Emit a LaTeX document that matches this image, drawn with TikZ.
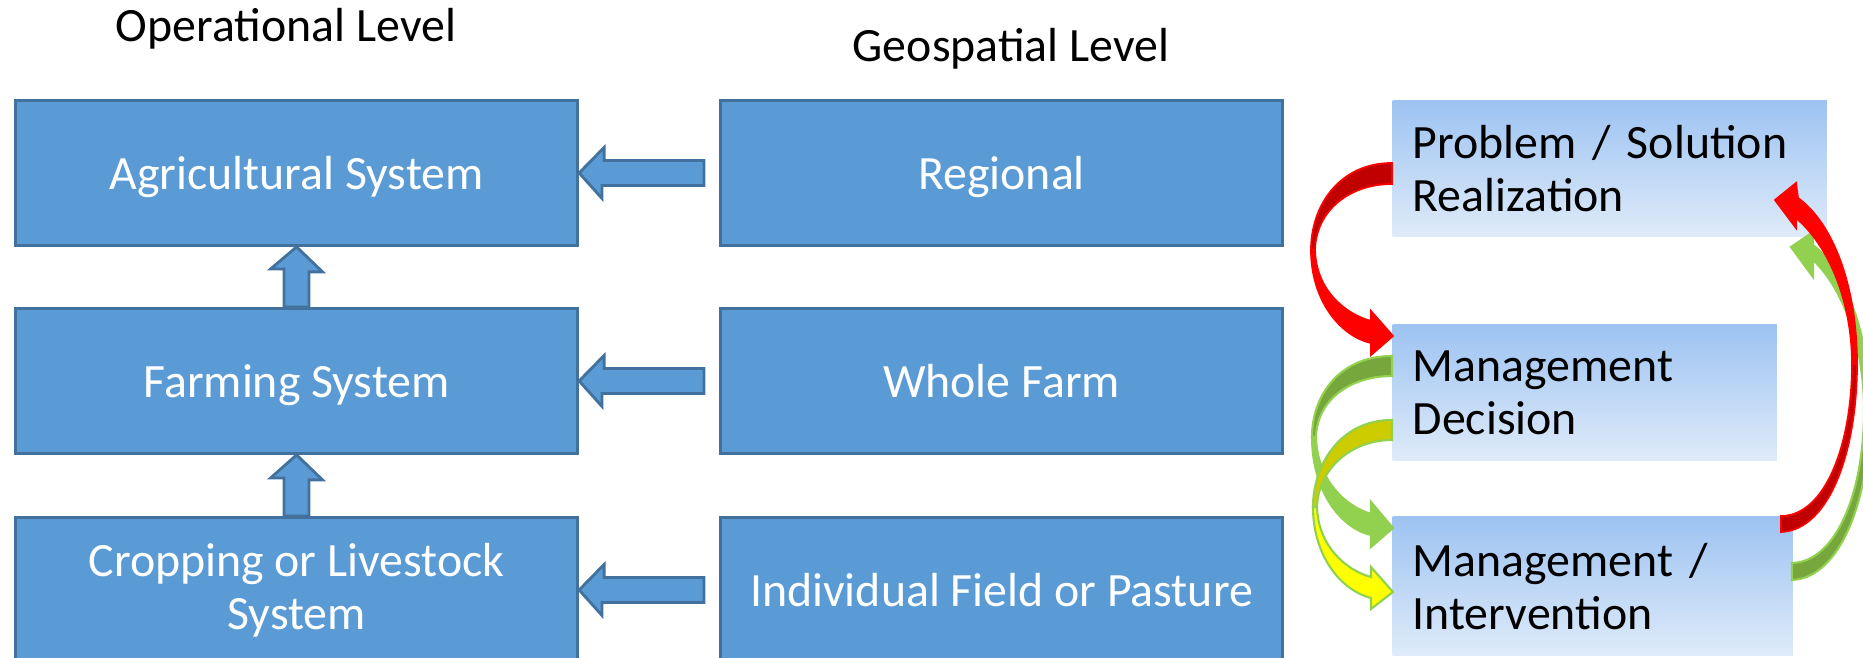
\documentclass[tikz,border=0pt]{standalone}
\usepackage{fontspec}
\setmainfont{Carlito}
\usetikzlibrary{calc}
\definecolor{boxfill}{HTML}{5B9BD5}
\definecolor{boxedge}{HTML}{41719C}
\definecolor{flowtop}{RGB}{157,195,242}
\definecolor{flowbot}{RGB}{223,235,249}
\definecolor{redbright}{HTML}{FF0000}
\definecolor{reddark}{HTML}{C00000}
\definecolor{grnbright}{HTML}{92D050}
\definecolor{grndark}{HTML}{76A63C}
\definecolor{ylwbright}{HTML}{FFFF00}
\definecolor{ylwdark}{HTML}{CCCC00}

\begin{document}
\begin{tikzpicture}[x=0.01cm,y=-0.01cm,font=\fontsize{13.6}{15.1}\selectfont,
    levelbox/.style={draw=boxedge,fill=boxfill,line width=0.8pt,text=white,align=center,
      minimum width=5.62cm,minimum height=1.45cm,anchor=north west,inner sep=0pt},
    oneline/.style={text height=0.36cm,text depth=0.03cm},
    flowbox/.style={top color=flowtop,bottom color=flowbot,anchor=north west,align=left,
      inner xsep=0.2cm,minimum height=1.36cm},
    blk/.style={draw=boxedge,fill=boxfill,line width=0.8pt},
    reddk/.style={draw=redbright,fill=reddark,line width=0.5pt},
    redbr/.style={draw=redbright,fill=redbright,line width=0.5pt},
    grndk/.style={draw=grnbright,fill=grndark,line width=0.6pt},
    grnbr/.style={draw=grnbright,fill=grnbright,line width=0.6pt},
    ylwdk/.style={draw=grnbright,fill=ylwdark,line width=0.6pt},
    ylwbr/.style={draw=grnbright,fill=ylwbright,line width=0.6pt}]
    \useasboundingbox (0,0) rectangle (1863,658);
    % column headings
    \node[anchor=base] (oplevel) at (286,42) {Operational Level};
    \node[anchor=base] (geolevel) at (1011,62) {Geospatial Level};
    % operational level
    \node[levelbox,oneline] (agsys) at (14,99) {Agricultural System};
    \node[levelbox,oneline] (farmsys) at (14,307) {Farming System};
    \node[levelbox] (cropsys) at (14,516) {Cropping or Livestock\\System};
    % geospatial level
    \node[levelbox,oneline] (regional) at (719,99) {Regional};
    \node[levelbox,oneline] (wholefarm) at (719,307) {Whole Farm};
    \node[levelbox,oneline] (field) at (719,516) {Individual Field or Pasture};
    % block arrows
    \draw[blk] (agsys.east) -- ++(25,-25.5) -- ++(0,13) -- ([xshift=-0.15cm,yshift=0.125cm]regional.west)
      -- ([xshift=-0.15cm,yshift=-0.125cm]regional.west) -- ++(-102,0) -- ++(0,13) -- cycle;
    \draw[blk] (farmsys.east) -- ++(25,-25.5) -- ++(0,13) -- ([xshift=-0.15cm,yshift=0.125cm]wholefarm.west)
      -- ([xshift=-0.15cm,yshift=-0.125cm]wholefarm.west) -- ++(-102,0) -- ++(0,13) -- cycle;
    \draw[blk] (cropsys.east) -- ++(25,-25.5) -- ++(0,13) -- ([xshift=-0.15cm,yshift=0.125cm]field.west)
      -- ([xshift=-0.15cm,yshift=-0.125cm]field.west) -- ++(-102,0) -- ++(0,13) -- cycle;
    \draw[blk] (agsys.south) -- ++(26,25) -- ++(-13.5,0) -- ([xshift=0.125cm]farmsys.north)
      -- ([xshift=-0.125cm]farmsys.north) -- ++(0,-38) -- ++(-13.5,0) -- cycle;
    \draw[blk] (farmsys.south) -- ++(26,25) -- ++(-13.5,0) -- ([xshift=0.125cm]cropsys.north)
      -- ([xshift=-0.125cm]cropsys.north) -- ++(0,-38) -- ++(-13.5,0) -- cycle;
    % decision cycle
    \node[flowbox,text width=3.94cm] (problem) at (1392,100) {Problem / Solution\\Realization};
    \node[flowbox,text width=3.44cm] (decision) at (1392,324) {Management\\Decision};
    \node[flowbox,text width=3.60cm,minimum height=1.39cm] (interv) at (1392,516) {Management /\\Intervention};
    % curved arrows, left side
    \draw[reddk] (1392,163) .. controls (1340,163) and (1311,205) .. (1311,250) -- (1315,250)
      .. controls (1316,210) and (1350,184) .. (1392,184) -- cycle;
    \draw[redbr] (1311,250) .. controls (1311,300) and (1340,336) .. (1371,343) -- (1371,355) -- (1393,336)
      -- (1371,311) -- (1371,321) .. controls (1345,314) and (1316,290) .. (1315,250) -- cycle;
    \draw[grndk] (1392,356) .. controls (1340,356) and (1312,395) .. (1312,437) -- (1316,437)
      .. controls (1317,400) and (1350,376) .. (1392,376) -- cycle;
    \draw[grnbr] (1312,437) .. controls (1312,490) and (1340,528) .. (1371,535) -- (1371,547) -- (1393,528)
      -- (1371,502) -- (1371,514) .. controls (1345,506) and (1317,480) .. (1316,437) -- cycle;
    \draw[ylwdk] (1392,420) .. controls (1340,420) and (1313,465) .. (1313,507) -- (1317,507)
      .. controls (1318,470) and (1350,440) .. (1392,440) -- cycle;
    \draw[ylwbr] (1313,507) .. controls (1313,555) and (1340,590) .. (1371,598) -- (1371,609) -- (1393,592)
      -- (1371,567) -- (1371,577) .. controls (1345,570) and (1318,545) .. (1317,507) -- cycle;
    % curved arrows, right side
    \draw[grndk] (1792,580) .. controls (1840,578) and (1870,500) .. (1870,410) -- (1864,410)
      .. controls (1864,495) and (1835,562) .. (1792,563) -- cycle;
    \draw[grnbr] (1870,410) .. controls (1870,335) and (1845,270) .. (1813,245) -- (1813,232) -- (1791,247)
      -- (1813,277) -- (1813,260) .. controls (1840,285) and (1864,340) .. (1864,410) -- cycle;
    \draw[reddk] (1781,532) .. controls (1830,530) and (1857,450) .. (1857,364) -- (1852,364)
      .. controls (1852,445) and (1825,516) .. (1781,516) -- cycle;
    \draw[redbr] (1857,364) .. controls (1857,290) and (1835,225) .. (1798,198) -- (1796,183) -- (1775,200)
      -- (1796,228) -- (1796,218) .. controls (1828,245) and (1852,300) .. (1852,364) -- cycle;
\end{tikzpicture}
\end{document}
